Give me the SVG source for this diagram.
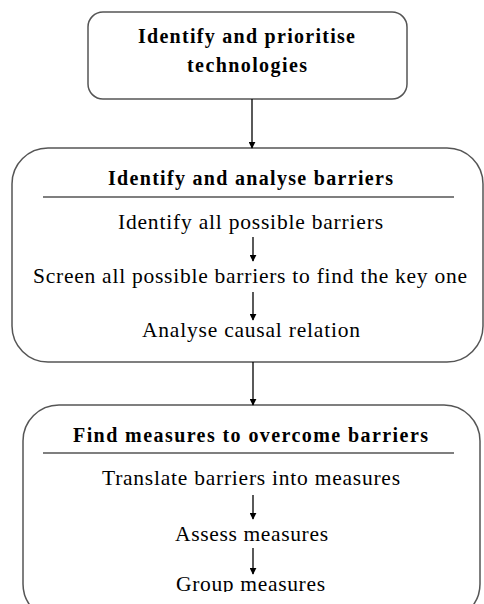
<svg xmlns="http://www.w3.org/2000/svg" width="484" height="604" viewBox="0 0 484 604">
<style>
.box{fill:#fff;stroke:#555;stroke-width:1.5}
.t{font-family:"Liberation Serif","Times New Roman",serif;font-size:21.5px;fill:#000;text-anchor:middle}
.b{font-weight:bold;font-size:20px}
.sep{stroke:#000;stroke-width:1.2}
.c{stroke:#000;stroke-width:1.3;fill:none;marker-end:url(#ah)}
</style>
<defs>
<marker id="ah" viewBox="0 0 10 10" refX="9" refY="5" markerWidth="7" markerHeight="7" markerUnits="userSpaceOnUse" orient="auto">
<path d="M0,0 L10,5 L0,10 z" fill="#000"/>
</marker>
<clipPath id="clipGroup"><rect x="0" y="0" width="484" height="592"/></clipPath>
</defs>
<rect width="484" height="604" fill="#fff"/>
<g id="n1">
<rect class="box" x="88" y="12" width="319" height="87" rx="15"/>
<text class="t b" x="246.5" y="43" textLength="217" lengthAdjust="spacing">Identify and prioritise</text>
<text class="t b" x="247" y="72" textLength="120" lengthAdjust="spacing">technologies</text>
</g>
<g id="n2">
<rect class="box" x="12" y="148" width="471" height="214" rx="36"/>
<text class="t b" x="250.5" y="185" textLength="285" lengthAdjust="spacing">Identify and analyse barriers</text>
<line class="sep" x1="43" y1="197" x2="454" y2="197"/>
<text class="t" x="250.5" y="229" textLength="265" lengthAdjust="spacing">Identify all possible barriers</text>
<text class="t" x="250" y="283" textLength="434" lengthAdjust="spacing">Screen all possible barriers to find the key one</text>
<text class="t" x="251" y="337" textLength="218" lengthAdjust="spacing">Analyse causal relation</text>
</g>
<g id="n3">
<rect class="box" x="23" y="405" width="457" height="215" rx="36"/>
<text class="t b" x="250.5" y="442" textLength="355" lengthAdjust="spacing">Find measures to overcome barriers</text>
<line class="sep" x1="43" y1="453" x2="454" y2="453"/>
<text class="t" x="251" y="485" textLength="298" lengthAdjust="spacing">Translate barriers into measures</text>
<text class="t" x="251.5" y="541" textLength="153" lengthAdjust="spacing">Assess measures</text>
<text class="t" x="250.5" y="591" textLength="149" lengthAdjust="spacing" clip-path="url(#clipGroup)">Group measures</text>
</g>
<g id="connectors">
<line class="c" x1="252" y1="99" x2="252" y2="148"/>
<line class="c" x1="253" y1="237" x2="253" y2="261"/>
<line class="c" x1="253" y1="292" x2="253" y2="320"/>
<line class="c" x1="253" y1="362" x2="253" y2="405"/>
<line class="c" x1="253" y1="495" x2="253" y2="519"/>
<line class="c" x1="253" y1="548" x2="253" y2="574"/>
</g>
</svg>
